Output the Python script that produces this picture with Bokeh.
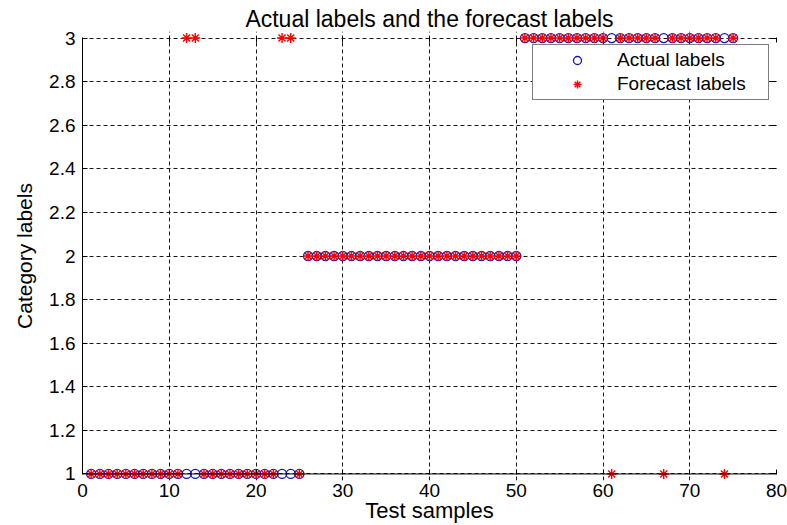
from bokeh.plotting import figure
from bokeh.models import LinearAxis, FixedTicker, Range1d, Legend, LegendItem, Span
from bokeh.embed import file_html
from bokeh.resources import INLINE

# ---- data ----
samples = [1, 2, 3, 4, 5, 6, 7, 8, 9, 10, 11, 12, 13, 14, 15, 16, 17, 18, 19, 20,
           21, 22, 23, 24, 25, 26, 27, 28, 29, 30, 31, 32, 33, 34, 35, 36, 37, 38, 39, 40,
           41, 42, 43, 44, 45, 46, 47, 48, 49, 50, 51, 52, 53, 54, 55, 56, 57, 58, 59, 60,
           61, 62, 63, 64, 65, 66, 67, 68, 69, 70, 71, 72, 73, 74, 75]
actual_labels = [1, 1, 1, 1, 1, 1, 1, 1, 1, 1, 1, 1, 1, 1, 1, 1, 1, 1, 1, 1,
                 1, 1, 1, 1, 1, 2, 2, 2, 2, 2, 2, 2, 2, 2, 2, 2, 2, 2, 2, 2,
                 2, 2, 2, 2, 2, 2, 2, 2, 2, 2, 3, 3, 3, 3, 3, 3, 3, 3, 3, 3,
                 3, 3, 3, 3, 3, 3, 3, 3, 3, 3, 3, 3, 3, 3, 3]
forecast_labels = [1, 1, 1, 1, 1, 1, 1, 1, 1, 1, 1, 3, 3, 1, 1, 1, 1, 1, 1, 1,
                   1, 1, 3, 3, 1, 2, 2, 2, 2, 2, 2, 2, 2, 2, 2, 2, 2, 2, 2, 2,
                   2, 2, 2, 2, 2, 2, 2, 2, 2, 2, 3, 3, 3, 3, 3, 3, 3, 3, 3, 3,
                   1, 3, 3, 3, 3, 3, 1, 3, 3, 3, 3, 3, 3, 1, 3]
x_ticks = [0, 10, 20, 30, 40, 50, 60, 70, 80]
y_ticks = [1, 1.2, 1.4, 1.6, 1.8, 2, 2.2, 2.4, 2.6, 2.8, 3]
y_tick_labels = ["1", "1.2", "1.4", "1.6", "1.8", "2", "2.2", "2.4", "2.6", "2.8", "3"]
x_lim = (0, 80)
y_lim = (1, 3)

FONT = "Liberation Sans"
PAD = 0.03  # small data padding so markers on the limits are not cut by the frame

p = figure(width=787, height=525, output_backend="svg", toolbar_location=None,
           x_range=Range1d(x_lim[0], x_lim[1]),
           y_range=Range1d(y_lim[0] - PAD, y_lim[1] + PAD),
           min_border_left=82, min_border_right=11, min_border_top=31,
           min_border_bottom=45, x_axis_label="Test samples",
           y_axis_label="Category labels")

p.title.text = "Actual labels and the forecast labels"
p.title.align = "center"
p.title.text_font = FONT
p.title.text_font_size = "23px"
p.title.text_font_style = "normal"
p.title.text_color = "black"
p.title.standoff = 0

p.outline_line_color = None
p.background_fill_color = "white"
p.border_fill_color = "white"

for ax in (p.xaxis[0], p.yaxis[0]):
    ax.axis_line_color = "black"
    ax.major_tick_line_color = "black"
    ax.major_tick_in = 5
    ax.major_tick_out = 0
    ax.minor_tick_line_color = None
    ax.major_label_text_font = FONT
    ax.major_label_text_font_size = "19px"
    ax.major_label_text_color = "black"
    ax.axis_label_text_font = FONT
    ax.axis_label_text_font_style = "normal"
    ax.axis_label_text_color = "black"
    ax.axis_label_text_font_size = "22px"

# bottom axis: ticks shifted up to the y=1 line, line drawn by a Span
xa = p.xaxis[0]
xa.ticker = FixedTicker(ticks=x_ticks)
xa.axis_line_color = None
xa.major_tick_in = 11
xa.major_tick_out = -6
xa.major_label_standoff = 3
xa.axis_label_standoff = -2
p.add_layout(Span(location=y_lim[0], dimension="width", line_color="black",
                  line_width=1))

ya = p.yaxis[0]
ya.ticker = FixedTicker(ticks=y_ticks)
ya.bounds = y_lim
ya.major_label_overrides = {t: l for t, l in zip(y_ticks, y_tick_labels)}
ya.major_label_standoff = 7
ya.axis_label_standoff = 10
ya.axis_label_text_font_size = "21px"

# top and right tick-only axes (MATLAB box ticks)
top = LinearAxis(ticker=FixedTicker(ticks=x_ticks), axis_line_color=None,
                 major_tick_in=11, major_tick_out=-6, minor_tick_line_color=None,
                 major_label_text_font_size="0px", major_label_standoff=0,
                 major_tick_line_color="black")
right = LinearAxis(ticker=FixedTicker(ticks=y_ticks), axis_line_color=None,
                   bounds=y_lim,
                   major_tick_in=5, major_tick_out=0, minor_tick_line_color=None,
                   major_label_text_font_size="0px", major_label_standoff=0,
                   major_tick_line_color="black")
p.add_layout(top, "above")
p.add_layout(right, "right")

p.xgrid.ticker = FixedTicker(ticks=x_ticks)
p.ygrid.ticker = FixedTicker(ticks=y_ticks)
p.xgrid.bounds = y_lim
p.ygrid.bounds = x_lim
for g in (p.xgrid[0], p.ygrid[0]):
    g.grid_line_color = "black"
    g.grid_line_dash = "4 3"
    g.grid_line_width = 1
    g.grid_line_alpha = 0.9

r_act = p.scatter(samples, actual_labels, marker="circle", size=9,
                  fill_color=None, line_color="#1212b8", line_width=1.3)
r_fc = p.scatter(samples, forecast_labels, marker="asterisk", size=10,
                 line_color="#ff0000", line_width=1.4)

legend = Legend(items=[LegendItem(label="Actual labels", renderers=[r_act]),
                       LegendItem(label="Forecast labels", renderers=[r_fc])],
                location=(450, 380))
legend.border_line_color = "black"
legend.border_line_width = 1
legend.background_fill_color = "white"
legend.background_fill_alpha = 1
legend.label_text_font = FONT
legend.label_text_font_size = "19px"
legend.label_text_color = "black"
legend.glyph_width = 80
legend.glyph_height = 20
legend.label_height = 20
legend.label_width = 147
legend.label_standoff = 0
legend.padding = 4
legend.spacing = 2
legend.margin = 0
p.add_layout(legend)

open("out.html", "w").write(file_html(p, INLINE))
